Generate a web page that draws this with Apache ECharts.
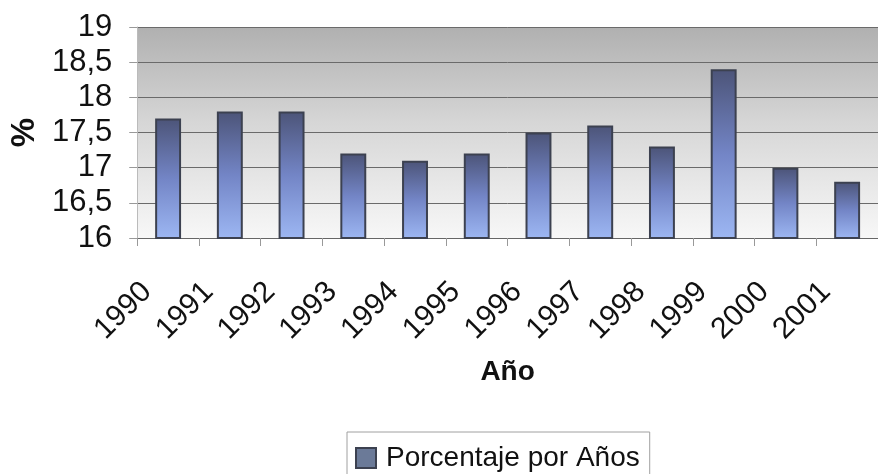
<!DOCTYPE html>
<html>
<head>
<meta charset="utf-8">
<script src="https://cdn.jsdelivr.net/npm/echarts@6/dist/echarts.min.js"></script>
<style>
  html, body { margin: 0; padding: 0; background: #ffffff; }
  #chart { width: 878px; height: 474px; }
</style>
</head>
<body>
<div id="chart"></div>
<script>
// Porcentaje anual, 1990–2001
const years = ['1990', '1991', '1992', '1993', '1994', '1995', '1996', '1997', '1998', '1999', '2000', '2001'];
const porcentaje = [17.7, 17.8, 17.8, 17.2, 17.1, 17.2, 17.5, 17.6, 17.3, 18.4, 17.0, 16.8];
const yMin = 16;
const yMax = 19;
const yStep = 0.5;
const seriesName = 'Porcentaje por Años';

const FONT = '"Liberation Sans", Arial, sans-serif';
const chart = echarts.init(document.getElementById('chart'), null, { renderer: 'canvas' });

const plotFill = new echarts.graphic.LinearGradient(0, 0, 0, 1, [
  { offset: 0, color: '#b0b0b0' },
  { offset: 0.45, color: '#d6d6d6' },
  { offset: 1, color: '#f7f7f7' }
]);
const barFill = new echarts.graphic.LinearGradient(0, 0, 0, 1, [
  { offset: 0, color: '#4c5478' },
  { offset: 0.5, color: '#7385c6' },
  { offset: 1, color: '#9db7f3' }
]);

chart.setOption({
  animation: false,
  backgroundColor: '#ffffff',
  grid: {
    left: 137, top: 27, right: -9, bottom: 236,
    show: true, backgroundColor: plotFill, borderWidth: 0,
    containLabel: false
  },
  legend: {
    data: [seriesName],
    left: 347, top: 432,
    padding: [12, 10, 12, 8],
    borderColor: '#a0a0a0', borderWidth: 1,
    itemWidth: 20, itemHeight: 20,
    icon: 'rect',
    itemStyle: { color: '#6b7a98' },
    textStyle: { fontFamily: FONT, fontSize: 28, color: '#111', padding: [0, 0, 0, 5] }
  },
  xAxis: {
    type: 'category',
    data: years,
    name: 'Año',
    nameLocation: 'middle',
    nameGap: 134,
    nameMoveOverlap: false,
    nameTextStyle: { fontFamily: FONT, fontSize: 28, fontWeight: 'bold', color: '#111', verticalAlign: 'middle' },
    axisLine: { show: true, lineStyle: { color: '#666', width: 1 } },
    axisTick: { show: true, alignWithLabel: false, length: 8, lineStyle: { color: '#999' } },
    axisLabel: {
      rotate: 45, margin: 28, interval: 0,
      fontFamily: FONT, fontSize: 30, color: '#111',
      padding: [0, 30, 0, 0]
    },
    splitLine: { show: false }
  },
  yAxis: {
    type: 'value',
    min: yMin, max: yMax, interval: yStep,
    name: '%',
    nameLocation: 'middle',
    nameRotate: 90,
    nameGap: 94,
    nameTextStyle: { fontFamily: FONT, fontSize: 33, fontWeight: 'bold', color: '#111' },
    axisLine: { show: true, lineStyle: { color: '#bbbbbb' } },
    axisTick: { show: true, inside: false, length: 8, lineStyle: { color: '#999' } },
    axisLabel: {
      margin: 25, fontFamily: FONT, fontSize: 31, color: '#111',
      formatter: v => String(v).replace('.', ',')
    },
    splitLine: { show: true, lineStyle: { color: '#6a6a6a', width: 1 } }
  },
  series: [{
    name: seriesName,
    type: 'bar',
    data: porcentaje,
    barWidth: '42%',
    itemStyle: { color: barFill, borderColor: '#3c4150', borderWidth: 2 },
    emphasis: { disabled: true }
  }]
});
</script>
</body>
</html>
